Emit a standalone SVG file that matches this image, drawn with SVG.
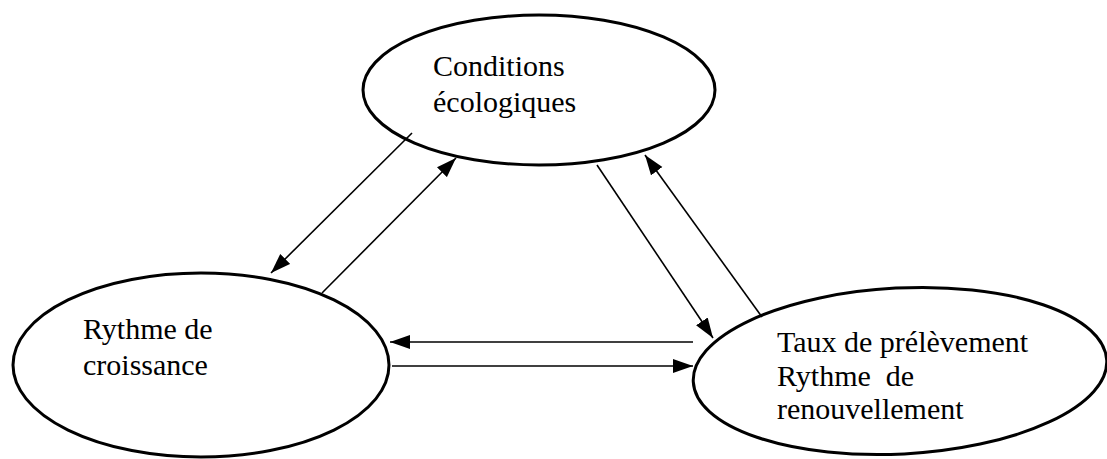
<svg xmlns="http://www.w3.org/2000/svg" width="1107" height="459" viewBox="0 0 1107 459">
<style>
.node ellipse{fill:#fff;stroke:#000;stroke-width:3}
text{font-family:"Liberation Serif","Times New Roman",serif;font-size:30px;fill:#000;white-space:pre}
.conn line{stroke:#000;stroke-width:1.6;marker-end:url(#ah)}
</style>
<defs>
<marker id="ah" viewBox="0 0 20 14" refX="20" refY="7" markerWidth="20" markerHeight="15" markerUnits="userSpaceOnUse" orient="auto">
<path d="M0,0 L20,7 L0,14 z" fill="#000"/>
</marker>
</defs>
<rect width="1107" height="459" fill="#fff"/>
<g id="conditions" class="node">
<ellipse cx="539" cy="90" rx="176" ry="75"/>
<text x="433" y="76">Conditions</text>
<text x="433" y="112">écologiques</text>
</g>
<g id="croissance" class="node">
<ellipse cx="201" cy="365" rx="188" ry="92"/>
<text x="83" y="339">Rythme de</text>
<text x="83" y="375">croissance</text>
</g>
<g id="prelevement" class="node">
<ellipse cx="900" cy="371" rx="207" ry="83" transform="rotate(-3 900 371)"/>
<text x="777" y="352">Taux de prélèvement</text>
<text x="777" y="386">Rythme  de</text>
<text x="777" y="419">renouvellement</text>
</g>
<g id="connectors" class="conn">
<line x1="412" y1="133" x2="271" y2="273"/>
<line x1="322" y1="293" x2="456" y2="158"/>
<line x1="597" y1="165" x2="713" y2="338"/>
<line x1="762" y1="317" x2="645" y2="155"/>
<line x1="693" y1="342" x2="390" y2="342"/>
<line x1="392" y1="366" x2="693" y2="366"/>
</g>
</svg>
